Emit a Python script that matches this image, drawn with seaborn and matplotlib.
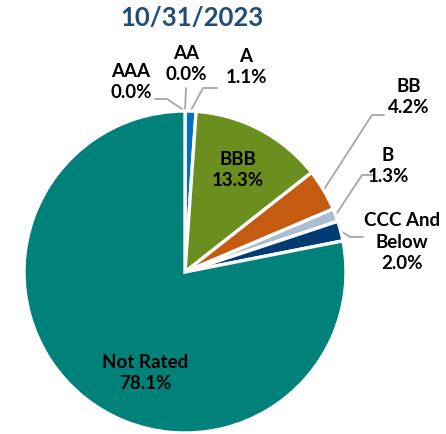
import numpy as np
import seaborn as sns
import matplotlib.pyplot as plt

# data
ratings = ['AAA', 'AA', 'A', 'BBB', 'BB', 'B', 'CCC And\nBelow', 'Not Rated']
shares = [0.0, 0.0, 1.1, 13.3, 4.2, 1.3, 2.0, 78.1]
colors = ['#1F4E79', '#2E75B6', '#0070C0', '#6A8F1F', '#C55A11', '#A9BFD1', '#003B73', '#00827A']
title = '10/31/2023'

sns.set_theme(style='white')
plt.rcParams['font.family'] = ['Lato', 'DejaVu Sans']

W, H = 446, 434
fig = plt.figure(figsize=(W / 100, H / 100), dpi=100)
ax = fig.add_axes([0, 0, 1, 1])

cx, cy, R = 185, H - 272, 161
wedges, _ = ax.pie(shares, colors=colors, startangle=90, counterclock=False,
                   center=(cx, cy), radius=R, frame=True,
                   wedgeprops=dict(edgecolor='white', linewidth=2.4))
ax.set_xlim(0, W)
ax.set_ylim(0, H)
ax.set_aspect('equal')
ax.axis('off')

# label layout in pixel coords (from top): label center, leader elbow points
outside = {
    'AAA': ((131, 82), [(155, 99), (167, 99)]),
    'AA': ((186, 64), [(186, 88)]),
    'A': ((246, 67), [(217, 88), (203, 88)]),
    'BB': ((409, 97), [(384, 115), (372, 115)]),
    'B': ((388, 166), [(372, 175), (362, 175)]),
    'CCC And\nBelow': ((402, 242), [(363, 237), (350, 237)]),
}
inside = {'BBB': (238, 170), 'Not Rated': (145, 373)}

fs = 13.5
for name, val, w in zip(ratings, shares, wedges):
    text = f'{name}\n{val:.1f}%'
    if name in inside:
        x, y = inside[name]
        ax.text(x, H - y, text, ha='center', va='center', fontsize=fs,
                fontweight='bold', color='black', linespacing=1.35)
        continue
    (lx, ly), pts = outside[name]
    ax.text(lx, H - ly, text, ha='center', va='center', fontsize=fs,
            fontweight='bold', color='black', linespacing=1.35)
    mid = np.deg2rad((w.theta1 + w.theta2) / 2)
    ex, ey = cx + R * np.cos(mid), cy + R * np.sin(mid)
    xs = [p[0] for p in pts] + [ex]
    ys = [H - p[1] for p in pts] + [ey]
    ax.plot(xs, ys, color='#A6A6A6', lw=1.3, zorder=0.5)

ax.text(192, H - 18, title, ha='center', va='center', fontsize=18.5,
        fontweight='bold', color='#1F4E79')

fig.savefig('out.png', dpi=100)
